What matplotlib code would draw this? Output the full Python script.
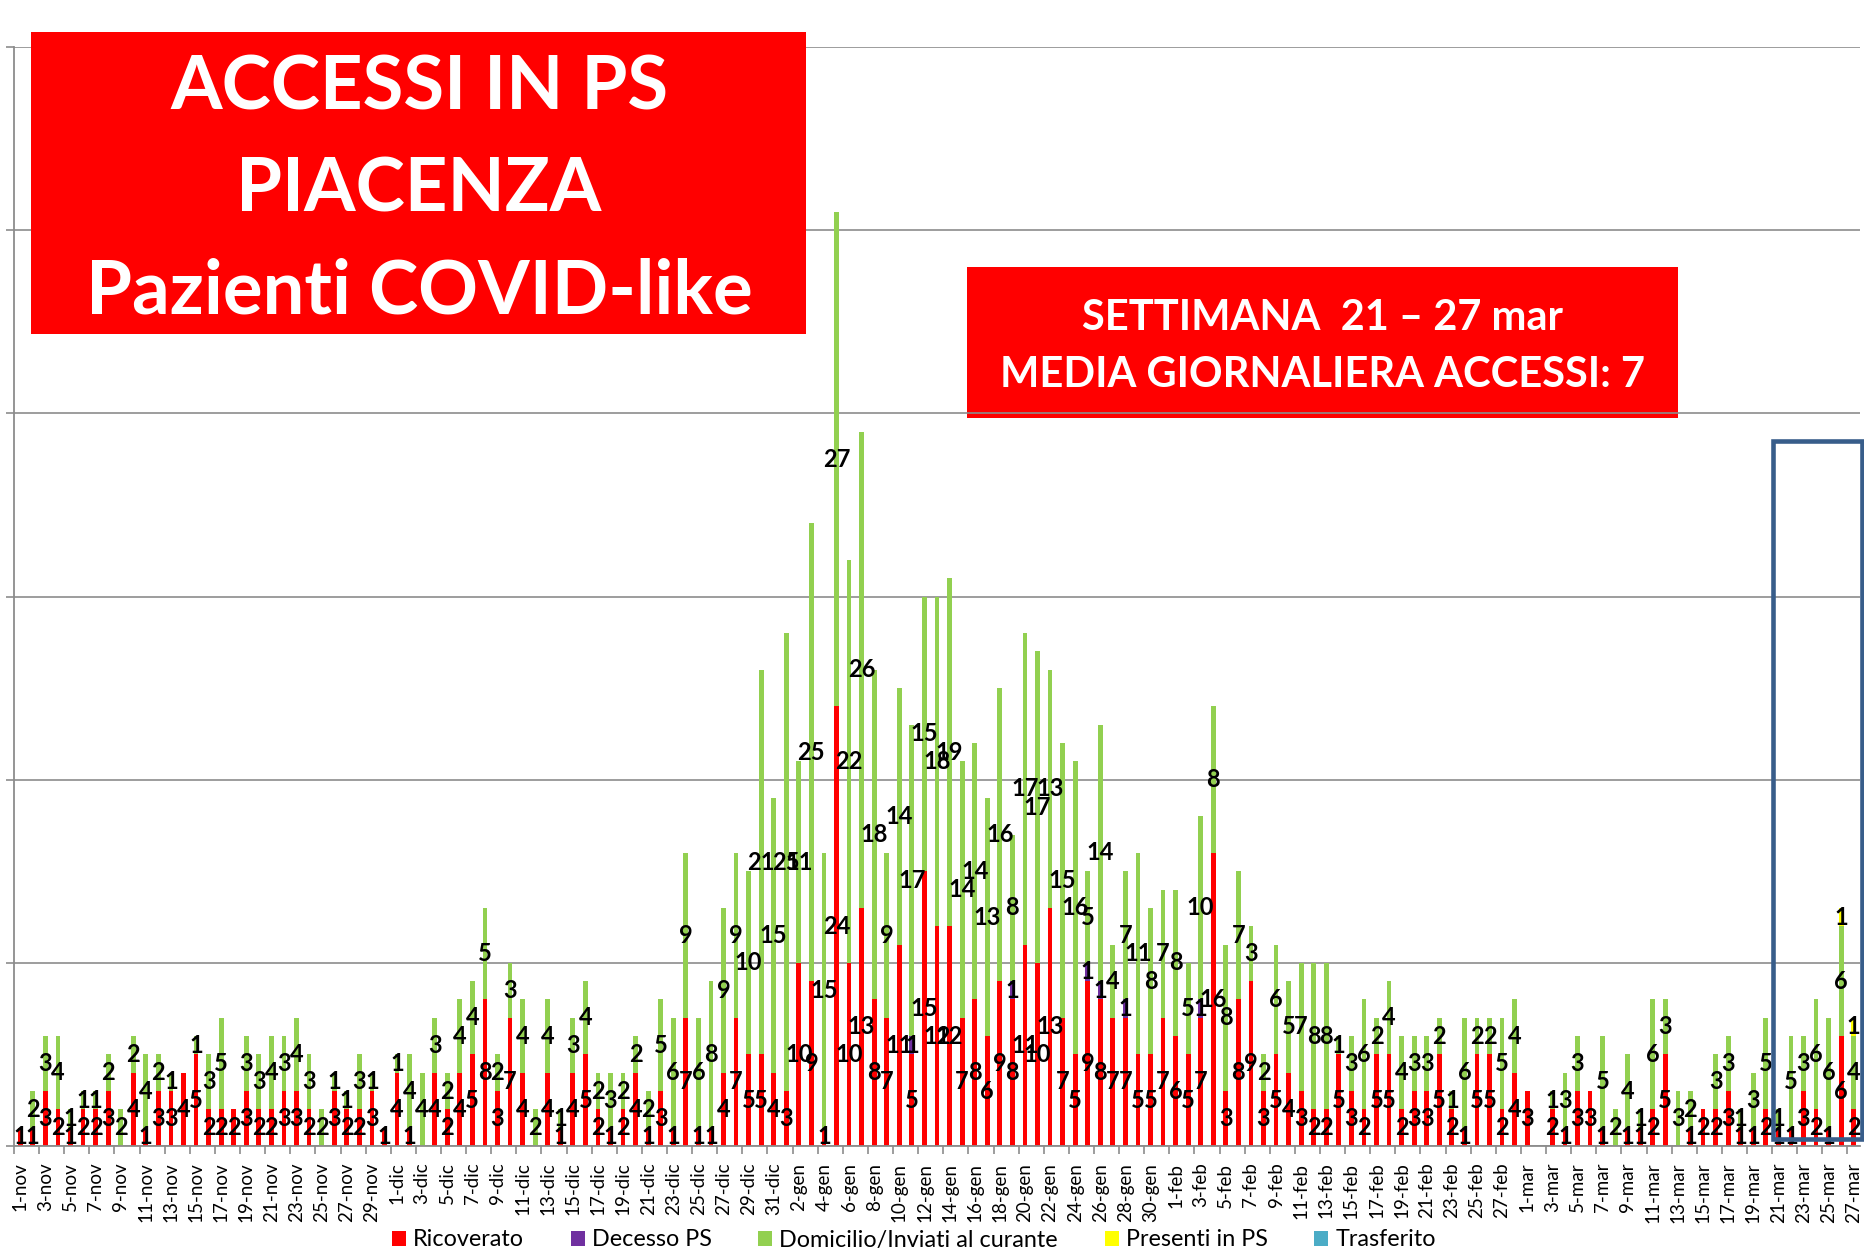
import numpy as np
import matplotlib
matplotlib.use("Agg")
import matplotlib.pyplot as plt
from matplotlib.patches import Rectangle

# ---------------- data ----------------
month_names = ["nov", "dic", "gen", "feb", "mar"]
month_days = [30, 31, 31, 28, 27]

ric_nov = [1,1,3,2,1,2,2,3,0,4,1,3,3,4,5,2,2,2,3,2,2,3,3,2,0,3,2,2,3,1]
ric_dic = [4,1,0,4,2,4,5,8,3,7,4,0,4,1,4,5,2,1,2,4,1,3,1,7,1,1,4,7,5,5,4]
ric_gen = [3,10,9,1,24,10,13,8,7,11,5,15,12,12,7,8,6,9,8,11,10,13,7,5,9,8,7,7,5,5,7]
ric_feb = [6,5,7,16,3,8,9,3,5,4,3,2,2,5,3,2,5,5,2,3,3,5,2,1,5,5,2,4]
ric_mar = [3,0,2,1,3,3,1,0,1,1,2,5,0,1,2,2,3,1,1,2,1,1,3,2,1,6,2]

dec_nov = [0]*30
dec_dic = [0]*31
dec_gen = [0,0,0,0,0,0,0,0,0,0,1,0,0,0,0,0,0,0,1,0,0,0,0,0,1,1,0,1,0,0,0]
dec_feb = [0,0,1,0,0,0,0,0,0,0,0,0,0,0,0,0,0,0,0,0,0,0,0,0,0,0,0,0]
dec_mar = [0]*27

dom_nov = [0,2,3,4,1,1,1,2,2,2,4,2,1,0,1,3,5,0,3,3,4,3,4,3,2,1,1,3,1,0]
dom_dic = [1,4,4,3,2,4,4,5,2,3,4,2,4,1,3,4,2,3,2,2,2,5,6,9,6,8,9,9,10,21,15]
dom_gen = [25,11,25,15,27,22,26,18,9,14,17,15,18,19,14,14,13,16,8,17,17,13,15,16,5,14,4,7,11,8,7]
dom_feb = [8,5,10,8,8,7,3,2,6,5,7,8,8,1,3,6,2,4,4,3,3,2,1,6,2,2,5,4]
dom_mar = [0,0,1,3,3,0,5,2,4,1,6,3,3,2,0,3,3,1,3,5,1,5,3,6,6,6,4]

pres_mar = [0]*25 + [1, 1]

series_names = ["Ricoverato", "Decesso PS", "Domicilio/Inviati al curante",
                "Presenti in PS", "Trasferito"]
series_colors = ["#FF0000", "#7030A0", "#92D050", "#FFFF00", "#4BACC6"]

title_lines = ["ACCESSI IN PS", "PIACENZA", "Pazienti COVID-like"]
week_lines = ["SETTIMANA  21 \u2013 27 mar", "MEDIA GIORNALIERA ACCESSI: 7"]

# ---------------- assemble ----------------
labels = [f"{d}-{m}" for m, n in zip(month_names, month_days) for d in range(1, n + 1)]
n = len(labels)
ricoverato = np.array(ric_nov + ric_dic + ric_gen + ric_feb + ric_mar)
decesso = np.array(dec_nov + dec_dic + dec_gen + dec_feb + dec_mar)
domicilio = np.array(dom_nov + dom_dic + dom_gen + dom_feb + dom_mar)
presenti = np.array([0]*(n - len(pres_mar)) + pres_mar)
trasferito = np.zeros(n, dtype=int)
series = [ricoverato, decesso, domicilio, presenti, trasferito]

FONT = ["Lato", "DejaVu Sans"]
plt.rcParams["font.family"] = FONT

W, H = 1864, 1251
fig = plt.figure(figsize=(W/100, H/100), dpi=100)
fig.patch.set_facecolor("white")

left_px, right_px, base_px, top_px = 14, 1860, 1146, 47
ax = fig.add_axes([left_px/W, 1 - base_px/H, (right_px-left_px)/W, (base_px-top_px)/H])
ax.patch.set_visible(False)

x = np.arange(n)
bottom = np.zeros(n)
handles = []
for vals, name, col in zip(series, series_names, series_colors):
    b = ax.bar(x, vals, width=0.38, bottom=bottom, color=col, label=name, zorder=2)
    handles.append(b)
    for i in range(n):
        v = vals[i]
        if v > 0:
            ax.text(x[i], bottom[i] + v/2, str(v), ha="center", va="center",
                    fontsize=17, fontweight="bold", color="black", zorder=4,
                    family=FONT)
    bottom = bottom + vals

ax.set_xlim(-0.5, n - 0.5)
ax.set_ylim(0, 60)

grid_col = "#8C8C8C"
ax.set_yticks(np.arange(0, 61, 10))
ax.set_yticklabels([])
ax.yaxis.grid(True, color=grid_col, lw=1.2, zorder=0.5)
ax.set_axisbelow(True)
ax.tick_params(axis="y", length=6, width=1.2, color=grid_col, direction="out")

ax.set_xticks(x[::2])
ax.set_xticklabels(labels[::2], rotation=90, fontsize=13.5)
ax.set_xticks(np.arange(-0.5, n, 2), minor=True)
ax.tick_params(axis="x", which="major", length=0, pad=12)
ax.tick_params(axis="x", which="minor", length=6, width=1.2, color=grid_col)

for s in ["top", "right"]:
    ax.spines[s].set_visible(False)
for s in ["left", "bottom"]:
    ax.spines[s].set_color(grid_col)
    ax.spines[s].set_linewidth(1.3)

# highlighted week box
ax.add_patch(Rectangle((139.55, 0.4), 7.1, 38.1, fill=False, edgecolor="#385D8A",
                       lw=3.3, zorder=6, clip_on=False))

# title box
fig.add_artist(Rectangle((31/W, 1 - 334/H), 775/W, 302/H, transform=fig.transFigure,
                         facecolor="#FF0000", edgecolor="none", zorder=3))
for txt, yb in zip(title_lines, [109, 212, 314]):
    fig.text(419/W, 1 - yb/H, txt, ha="center", va="baseline", color="white",
             fontsize=53.5, fontweight="bold", zorder=4)

# weekly box (under grid lines)
fig.add_artist(Rectangle((967/W, 1 - 418/H), 711/W, 151/H, transform=fig.transFigure,
                         facecolor="#FF0000", edgecolor="none", zorder=-1))
for txt, yb in zip(week_lines, [330, 387]):
    fig.text(1323/W, 1 - yb/H, txt, ha="center", va="baseline", color="white",
             fontsize=30, fontweight="bold", zorder=4)

fig.legend(handles=handles, labels=series_names, loc="center",
           bbox_to_anchor=(914/W, 1 - 1240/H), ncol=5, frameon=False,
           fontsize=16.8, handlelength=0.6, handleheight=0.6, handletextpad=0.3,
           columnspacing=2.0, borderpad=0, borderaxespad=0)

fig.savefig("out.png", dpi=100)
